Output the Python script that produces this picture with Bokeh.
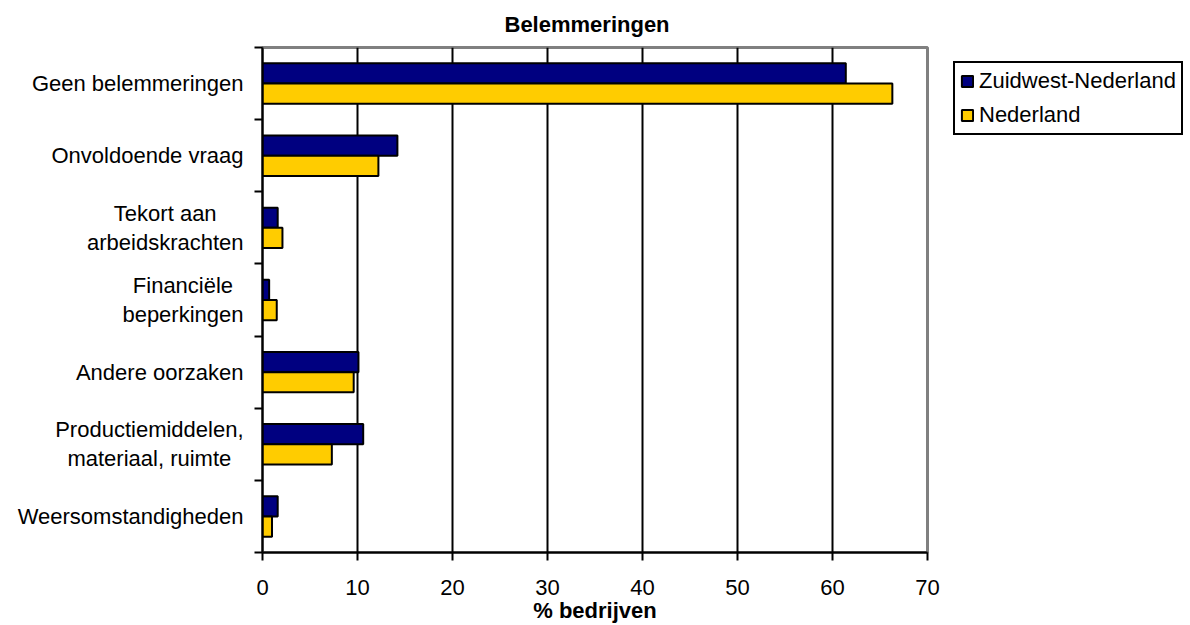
from bokeh.plotting import figure
from bokeh.layouts import row
from bokeh.models import Range1d, FixedTicker, Legend, LegendItem, ColumnDataSource
from bokeh.core.properties import value
from bokeh.embed import file_html
from bokeh.resources import INLINE

categories = ["Geen belemmeringen", "Onvoldoende vraag", "Tekort aan\narbeidskrachten",
              "Financiële\nbeperkingen", "Andere oorzaken",
              "Productiemiddelen,\nmateriaal, ruimte", "Weersomstandigheden"]
zuidwest = [61.4, 14.2, 1.6, 0.7, 10.1, 10.6, 1.6]
nederland = [66.3, 12.2, 2.1, 1.5, 9.6, 7.3, 1.0]
x_ticks = [0, 10, 20, 30, 40, 50, 60, 70]

FONT = "Liberation Sans"
FS = "22px"
FS_PX = 22
n = len(categories)
centers = [n - i - 0.5 for i in range(n)]
bh = 0.28
yr = Range1d(0, n)

# ---------- main chart ----------
p = figure(frame_width=665, frame_height=505, output_backend="svg", toolbar_location=None,
           x_range=Range1d(0, 70), y_range=yr,
           min_border_left=10, min_border_top=47, min_border_right=263, min_border_bottom=60,
           title="Belemmeringen")
p.title.align = "left"
p.title.offset = 242
p.title.vertical_align = "top"
p.title.standoff = 18
p.title.text_font = FONT
p.title.text_font_size = FS
p.title.text_font_style = "bold"
p.title.text_color = "black"

src_z = ColumnDataSource(dict(y=[c + bh / 2 for c in centers], right=zuidwest))
src_n = ColumnDataSource(dict(y=[c - bh / 2 for c in centers], right=nederland))
rz = p.hbar(y="y", left=0, right="right", height=bh, source=src_z,
            fill_color="#000080", line_color="black", line_width=2)
rn = p.hbar(y="y", left=0, right="right", height=bh, source=src_n,
            fill_color="#FFCC00", line_color="black", line_width=2)

p.outline_line_color = "#808080"
p.outline_line_width = 3

p.xaxis.ticker = FixedTicker(ticks=x_ticks)
p.xaxis.axis_line_color = "black"
p.xaxis.axis_line_width = 2
p.xaxis.major_tick_out = 8
p.xaxis.major_tick_in = 0
p.xaxis.major_tick_line_width = 2
p.xaxis.minor_tick_line_color = None
p.xaxis.major_label_text_font = FONT
p.xaxis.major_label_text_font_size = FS
p.xaxis.major_label_text_color = "black"
p.xaxis.major_label_standoff = 19
p.xaxis.axis_label = "% bedrijven"
p.xaxis.axis_label_text_font = FONT
p.xaxis.axis_label_text_font_size = FS
p.xaxis.axis_label_text_font_style = "bold"
p.xaxis.axis_label_text_color = "black"
p.xaxis.axis_label_standoff = 0

p.yaxis.ticker = FixedTicker(ticks=[], minor_ticks=list(range(n + 1)))
p.yaxis.axis_line_color = "black"
p.yaxis.axis_line_width = 2
p.yaxis.major_tick_line_color = None
p.yaxis.major_tick_out = 0
p.yaxis.major_tick_in = 0
p.yaxis.minor_tick_out = 8
p.yaxis.minor_tick_in = 0
p.yaxis.minor_tick_line_width = 2
p.yaxis.minor_tick_line_color = "black"
p.yaxis.major_label_standoff = 0

p.ygrid.grid_line_color = None
p.xgrid.ticker = FixedTicker(ticks=[10, 20, 30, 40, 50, 60])
p.xgrid.grid_line_color = "black"
p.xgrid.grid_line_width = 2
p.xgrid.grid_line_alpha = 1

legend = Legend(items=[LegendItem(label="Zuidwest-Nederland", renderers=[rz]),
                       LegendItem(label="Nederland", renderers=[rn])],
                location=(26, 417))
legend.label_text_font = FONT
legend.label_text_font_size = FS
legend.label_text_color = "black"
legend.border_line_color = "black"
legend.border_line_alpha = 1
legend.border_line_width = 2
legend.background_fill_color = "white"
legend.background_fill_alpha = 1
legend.glyph_width = 14
legend.glyph_height = 14
legend.label_height = 25
legend.label_standoff = 5
legend.spacing = 8
legend.padding = 5
legend.margin = 0
p.add_layout(legend, "right")

# ---------- category label panel ----------
LW = 252
lab_fig = figure(frame_width=LW, frame_height=505, output_backend="svg", toolbar_location=None,
                 x_range=Range1d(0, LW), y_range=yr,
                 min_border_left=0, min_border_right=0, min_border_top=47, min_border_bottom=0)
lab_fig.axis.visible = False
lab_fig.grid.visible = False
lab_fig.outline_line_color = None

# approximate widest-line widths (em) for centred two-line labels
line_em = {"Tekort aan\narbeidskrachten": 7.114,
           "Financiële\nbeperkingen": 5.503,
           "Productiemiddelen,\nmateriaal, ruimte": 8.559}
right_edge = LW - 9
single = dict(x=[], y=[], t=[])
multi = dict(x=[], y=[], t=[])
for c, lab in zip(centers, categories):
    if "\n" in lab:
        multi["x"].append(right_edge - line_em[lab] * FS_PX / 2)
        multi["y"].append(c)
        multi["t"].append(lab)
    else:
        single["x"].append(right_edge)
        single["y"].append(c)
        single["t"].append(lab)

lab_fig.text(x="x", y="y", text="t", source=ColumnDataSource(single), text_align="right",
             text_baseline="middle", text_font=value(FONT), text_font_size=FS, text_color="black")
lab_fig.text(x="x", y="y", text="t", source=ColumnDataSource(multi), text_align="center",
             text_baseline="middle", text_font=value(FONT), text_font_size=FS, text_color="black",
             text_line_height=1.15)

layout = row(lab_fig, p, spacing=0)
open("out.html", "w").write(file_html(layout, INLINE))
